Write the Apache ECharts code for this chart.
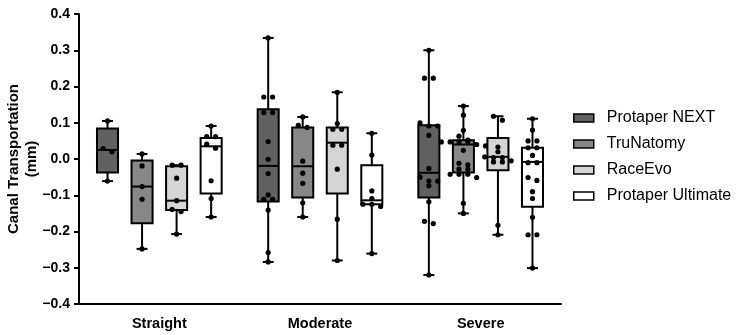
<!DOCTYPE html>
<html><head><meta charset="utf-8">
<script src="https://cdn.jsdelivr.net/npm/echarts@6/dist/echarts.min.js"></script>
<style>html,body{margin:0;padding:0;background:#fff}#c{width:736px;height:335px}</style>
</head><body><div id="c"></div>
<script>
const categories = ['Straight', 'Moderate', 'Severe'];
const seriesNames = ['Protaper NEXT', 'TruNatomy', 'RaceEvo', 'Protaper Ultimate'];
const fills = ['#616161', '#878787', '#d5d5d5', '#ffffff'];

// box statistics per category: [min, Q1, median, Q3, max]
const pnStats = [[-0.061, -0.037, 0.025, 0.084, 0.105], [-0.284, -0.117, -0.019, 0.137, 0.334], [-0.320, -0.106, -0.038, 0.093, 0.300]];
const tnStats = [[-0.248, -0.177, -0.076, -0.004, 0.014], [-0.160, -0.106, -0.020, 0.087, 0.116], [-0.150, -0.037, 0.040, 0.052, 0.146]];
const reStats = [[-0.207, -0.141, -0.115, -0.020, -0.017], [-0.280, -0.095, 0.045, 0.087, 0.184], [-0.209, -0.031, 0.006, 0.058, 0.118]];
const puStats = [[-0.160, -0.095, 0.035, 0.058, 0.091], [-0.261, -0.125, -0.114, -0.017, 0.071], [-0.301, -0.132, -0.008, 0.031, 0.111]];

// individual observations per category
const pnPoints = [
  [0.105, 0.029, 0.020, -0.061],
  [0.334, 0.171, 0.171, 0.128, 0.128, 0.048, -0.001, -0.040, -0.099, -0.111, -0.111, -0.141, -0.258, -0.284],
  [0.300, 0.223, 0.223, 0.100, 0.091, 0.091, 0.065, -0.026, -0.050, -0.061, -0.061, -0.074, -0.118, -0.172, -0.178, -0.320]
];
const tnPoints = [
  [0.014, -0.019, -0.076, -0.111, -0.248],
  [0.116, 0.093, 0.087, -0.006, -0.039, -0.067, -0.121, -0.160],
  [0.146, 0.121, 0.079, 0.063, 0.052, 0.047, 0.047, 0.047, 0.047, 0.040, 0.036, 0.024, -0.012, -0.016, -0.028, -0.028, -0.042, -0.042, -0.042, -0.051, -0.122, -0.150]
];
const rePoints = [
  [-0.017, -0.017, -0.053, -0.115, -0.139, -0.145, -0.207],
  [0.184, 0.098, 0.082, 0.082, 0.038, 0.038, -0.028, -0.166, -0.280],
  [0.118, 0.107, 0.033, 0.020, 0.006, 0.004, 0.004, -0.005, -0.008, -0.008, -0.183, -0.209]
];
const puPoints = [
  [0.091, 0.062, 0.062, 0.041, 0.030, -0.060, -0.109, -0.160],
  [0.071, 0.011, -0.088, -0.109, -0.125, -0.125, -0.131, -0.261],
  [0.111, 0.080, 0.050, 0.050, 0.031, 0.031, 0.010, -0.010, -0.010, -0.051, -0.059, -0.090, -0.109, -0.161, -0.209, -0.209, -0.301]
];

const allStats = [pnStats, tnStats, reStats, puStats];
const allPoints = [pnPoints, tnPoints, rePoints, puPoints];
const FONT = "'Liberation Sans', Arial, sans-serif";

function makeRender(si, points) {
  return function (params, api) {
    const cat = api.value(0);
    const c0 = api.coord([cat, 0]);
    const band = api.size([1, 0])[0];
    const cx = c0[0] + (si - 1.5) * band * 0.215;
    const hw = band * 0.0655;
    const cap = band * 0.034;
    const yv = i => api.coord([cat, api.value(i)])[1];
    const yMin = yv(1), yQ1 = yv(2), yMed = yv(3), yQ3 = yv(4), yMax = yv(5);
    const color = api.visual('color');
    const ls = { stroke: '#000', lineWidth: 2 };
    const children = [
      { type: 'line', shape: { x1: cx, y1: yQ3, x2: cx, y2: yMax }, style: ls },
      { type: 'line', shape: { x1: cx, y1: yQ1, x2: cx, y2: yMin }, style: ls },
      { type: 'line', shape: { x1: cx - cap, y1: yMax, x2: cx + cap, y2: yMax }, style: ls },
      { type: 'line', shape: { x1: cx - cap, y1: yMin, x2: cx + cap, y2: yMin }, style: ls },
      { type: 'rect', shape: { x: cx - hw, y: yQ3, width: 2 * hw, height: yQ1 - yQ3 }, style: { fill: color, stroke: '#000', lineWidth: 2 } },
      { type: 'line', shape: { x1: cx - hw, y1: yMed, x2: cx + hw, y2: yMed }, style: ls }
    ];
    // dots arranged in rows (simple swarm)
    const ys = points[cat].map(v => api.coord([cat, v])[1]).sort((a, b) => a - b);
    const rows = [];
    ys.forEach(y => {
      const last = rows[rows.length - 1];
      if (last && y - last[0] < 4) last.push(y); else rows.push([y]);
    });
    const d = band * 0.055;
    rows.forEach(r => {
      r.forEach((y, k) => {
        children.push({ type: 'circle', shape: { cx: cx + (k - (r.length - 1) / 2) * d, cy: y, r: 2.6 }, style: { fill: '#000' } });
      });
    });
    return { type: 'group', children };
  };
}

const series = seriesNames.map((name, si) => ({
  type: 'custom',
  name,
  renderItem: makeRender(si, allPoints[si]),
  itemStyle: { color: fills[si], borderColor: '#000', borderWidth: 1.5 },
  encode: { x: 0, y: [1, 2, 3, 4, 5] },
  data: allStats[si].map((s, ci) => [ci].concat(s)),
  silent: true
}));

const chart = echarts.init(document.getElementById('c'), null, { renderer: 'canvas' });
chart.setOption({
  animation: false,
  backgroundColor: '#fff',
  grid: { left: 79, right: 175, top: 14, bottom: 31, containLabel: false, outerBoundsMode: 'none' },
  legend: {
    orient: 'vertical', left: 573, top: 110, padding: 0, itemWidth: 20, itemHeight: 8, itemGap: 10, icon: 'rect',
    textStyle: { fontFamily: FONT, fontSize: 16, color: '#000', lineHeight: 16, padding: [0, 0, 0, 8] },
    data: seriesNames.map((n, i) => ({ name: n, itemStyle: { color: fills[i], borderColor: '#000', borderWidth: 1.5 } }))
  },
  xAxis: {
    type: 'category', data: categories, boundaryGap: true,
    axisLine: { onZero: false, lineStyle: { color: '#000', width: 2 } },
    axisTick: { alignWithLabel: true, length: 5, lineStyle: { color: '#000', width: 2 } },
    axisLabel: { fontFamily: FONT, fontSize: 14.5, fontWeight: 'bold', color: '#000', margin: 12 },
    splitLine: { show: false }
  },
  yAxis: {
    type: 'value', min: -0.4, max: 0.4, interval: 0.1,
    name: 'Canal Transportation\n(mm)', nameLocation: 'middle', nameRotate: 90, nameGap: 38, nameMoveOverlap: false,
    nameTextStyle: { fontFamily: FONT, fontSize: 15, fontWeight: 'bold', color: '#000', lineHeight: 18 },
    axisLine: { show: true, lineStyle: { color: '#000', width: 2 } },
    axisTick: { show: true, length: 5, lineStyle: { color: '#000', width: 2 } },
    axisLabel: {
      fontFamily: FONT, fontSize: 14, fontWeight: 'bold', color: '#000', margin: 9,
      formatter: v => (v < -1e-9 ? '\u2212' : '') + Math.abs(v).toFixed(1)
    },
    splitLine: { show: false }
  },
  series
});
</script>
</body></html>
